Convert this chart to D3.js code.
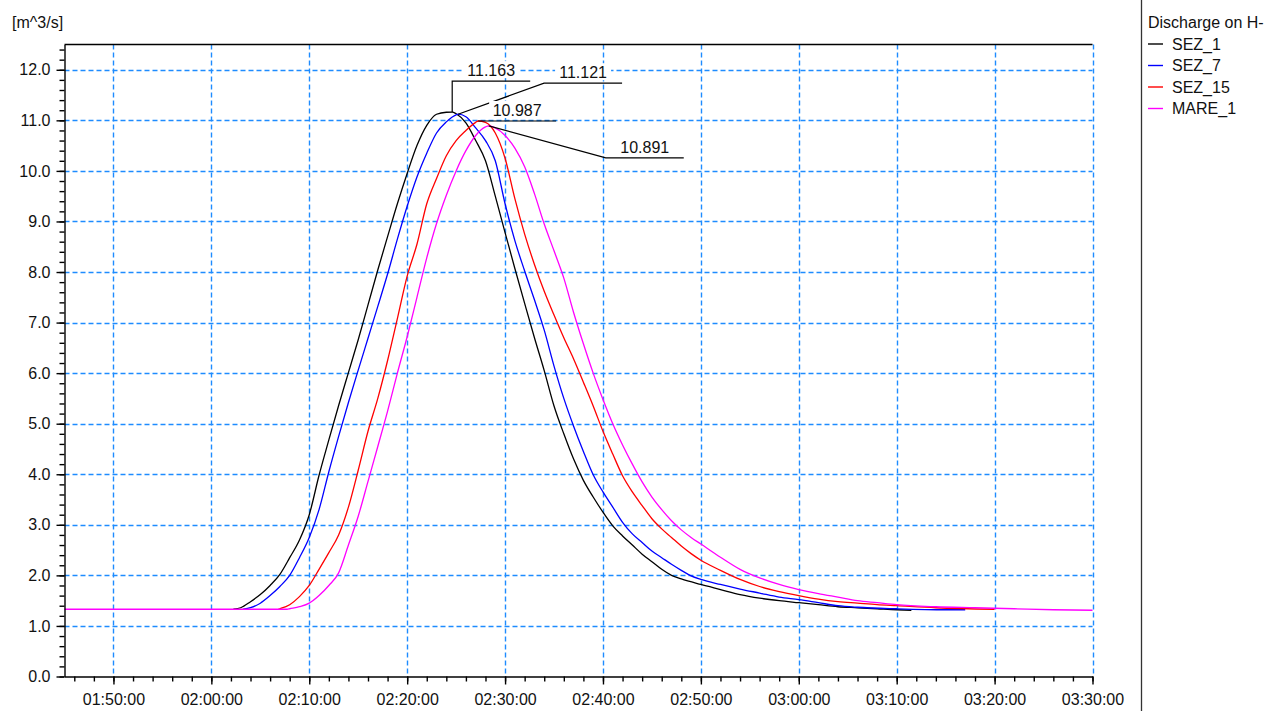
<!DOCTYPE html>
<html>
<head>
<meta charset="utf-8">
<script src="https://cdn.jsdelivr.net/npm/d3@7"></script>
<style>
  html, body { margin: 0; padding: 0; background: #fff; overflow: hidden; }
  svg { display: block; font-family: "Liberation Sans", Arial, sans-serif; }
</style>
</head>
<body>
<svg id="chart" width="1267" height="711"></svg>
<script>
// ---- Discharge hydrographs (m^3/s) at four sections ----
const sez1Times = ["02:02:15","02:03:00","02:04:00","02:05:00","02:06:00","02:07:00","02:08:00","02:09:00","02:10:00","02:11:00","02:12:00","02:13:00","02:14:00","02:15:00","02:16:00","02:17:00","02:18:00","02:19:00","02:20:00","02:21:00","02:22:00","02:23:00","02:24:00","02:24:36","02:25:00","02:26:00","02:27:00","02:28:00","02:29:00","02:30:00","02:31:00","02:32:00","02:33:00","02:34:00","02:35:00","02:36:00","02:37:00","02:38:00","02:39:00","02:40:00","02:41:00","02:42:00","02:43:00","02:44:00","02:45:00","02:46:00","02:47:00","02:48:00","02:50:00","02:52:00","02:54:00","02:56:00","02:58:00","03:00:00","03:02:00","03:04:00","03:06:00","03:08:00","03:10:00","03:11:30"];
const sez1Values = [1.33,1.36,1.48,1.62,1.80,2.02,2.35,2.70,3.20,3.98,4.68,5.36,6.01,6.66,7.35,8.04,8.70,9.35,9.95,10.50,10.90,11.12,11.16,11.163,11.13,10.95,10.60,10.20,9.50,8.78,8.07,7.38,6.70,6.05,5.35,4.80,4.30,3.88,3.55,3.25,2.98,2.78,2.60,2.42,2.27,2.12,2.00,1.93,1.82,1.72,1.62,1.55,1.50,1.46,1.42,1.38,1.36,1.34,1.32,1.31];

const sez7Times = ["02:03:15","02:04:00","02:05:00","02:06:00","02:07:00","02:08:00","02:09:00","02:10:00","02:11:00","02:12:00","02:13:00","02:14:00","02:15:00","02:16:00","02:17:00","02:18:00","02:19:00","02:20:00","02:21:00","02:22:00","02:23:00","02:24:00","02:25:00","02:25:12","02:26:00","02:27:00","02:28:00","02:29:00","02:30:00","02:31:00","02:32:00","02:33:00","02:34:00","02:35:00","02:36:00","02:37:00","02:38:00","02:39:00","02:40:00","02:41:00","02:42:00","02:43:00","02:44:00","02:45:00","02:46:00","02:47:00","02:48:00","02:49:00","02:50:00","02:52:00","02:54:00","02:56:00","02:58:00","03:00:00","03:02:00","03:04:00","03:06:00","03:10:00","03:15:00","03:17:00"];
const sez7Values = [1.33,1.36,1.45,1.60,1.78,2.00,2.35,2.75,3.30,4.05,4.75,5.42,6.06,6.69,7.32,7.96,8.65,9.30,9.88,10.35,10.75,10.97,11.11,11.121,11.07,10.85,10.60,10.20,9.35,8.62,8.02,7.45,6.85,6.14,5.50,4.95,4.45,3.99,3.65,3.35,3.05,2.82,2.65,2.48,2.35,2.22,2.10,1.99,1.92,1.82,1.73,1.65,1.57,1.52,1.46,1.40,1.37,1.34,1.32,1.32];

const sez15Times = ["02:06:50","02:07:00","02:08:00","02:09:00","02:10:00","02:11:00","02:12:00","02:13:00","02:14:00","02:15:00","02:16:00","02:17:00","02:18:00","02:19:00","02:20:00","02:21:00","02:22:00","02:23:00","02:24:00","02:25:00","02:26:00","02:27:00","02:27:15","02:28:00","02:29:00","02:30:00","02:31:00","02:32:00","02:33:00","02:34:00","02:35:00","02:36:00","02:37:00","02:38:00","02:39:00","02:40:00","02:41:00","02:42:00","02:43:00","02:44:00","02:45:00","02:46:00","02:47:00","02:48:00","02:49:00","02:50:00","02:52:00","02:54:00","02:56:00","02:58:00","03:00:00","03:02:00","03:04:00","03:06:00","03:08:00","03:10:00","03:14:00","03:20:00"];
const sez15Values = [1.33,1.34,1.42,1.58,1.80,2.12,2.45,2.80,3.35,4.08,4.85,5.50,6.25,7.08,7.92,8.55,9.35,9.85,10.30,10.60,10.80,10.96,10.987,10.96,10.75,10.25,9.45,8.75,8.15,7.62,7.15,6.70,6.28,5.82,5.35,4.85,4.40,3.97,3.65,3.38,3.12,2.92,2.75,2.58,2.43,2.30,2.10,1.92,1.78,1.68,1.60,1.53,1.48,1.45,1.42,1.40,1.36,1.33];

const mare1Times = ["01:45:00","02:07:45","02:08:00","02:09:00","02:10:00","02:11:00","02:12:00","02:13:00","02:14:00","02:15:00","02:16:00","02:17:00","02:18:00","02:19:00","02:20:00","02:21:00","02:22:00","02:23:00","02:24:00","02:25:00","02:26:00","02:27:00","02:28:00","02:28:20","02:29:00","02:30:00","02:31:00","02:32:00","02:33:00","02:34:00","02:35:00","02:36:00","02:37:00","02:38:00","02:39:00","02:40:00","02:41:00","02:42:00","02:43:00","02:44:00","02:45:00","02:46:00","02:47:00","02:48:00","02:49:00","02:50:00","02:52:00","02:54:00","02:56:00","02:58:00","03:00:00","03:02:00","03:04:00","03:06:00","03:08:00","03:10:00","03:14:00","03:18:00","03:22:00","03:26:00","03:30:00"];
const mare1Values = [1.33,1.33,1.34,1.38,1.45,1.60,1.80,2.05,2.60,3.17,3.86,4.55,5.25,6.00,6.72,7.50,8.28,8.96,9.52,10.00,10.40,10.70,10.87,10.891,10.85,10.70,10.45,10.08,9.55,8.95,8.42,7.88,7.20,6.58,6.00,5.48,5.00,4.58,4.20,3.85,3.55,3.30,3.08,2.90,2.75,2.62,2.36,2.12,1.95,1.82,1.72,1.64,1.57,1.50,1.46,1.42,1.38,1.36,1.34,1.32,1.31];

const seriesNames = ["SEZ_1", "SEZ_7", "SEZ_15", "MARE_1"];
const xTickLabels = ["01:50:00","02:00:00","02:10:00","02:20:00","02:30:00","02:40:00","02:50:00","03:00:00","03:10:00","03:20:00","03:30:00"];
const yTickLabels = ["0.0","1.0","2.0","3.0","4.0","5.0","6.0","7.0","8.0","9.0","10.0","11.0","12.0"];
const timeDomain = ["01:45:00", "03:30:00"];
const valueDomain = [0, 12.5];
const yAxisTitle = "[m^3/s]";
const legendTitle = "Discharge on H-";

// ---- styling ----
const seriesColors = ["#000000", "#0000ff", "#ff0000", "#ff00ff"];
const gridColor = "#1e8cff";
const fontSize = 16;
// leader-line elbow offsets from each peak (px) for the peak value callouts
const calloutElbows = [[0, -31], [86, -31], [0, 0], [117, 32]];
const calloutRun = 78;

const parseTime = d3.timeParse("%H:%M:%S");
const seriesData = [
  [sez1Times, sez1Values], [sez7Times, sez7Values],
  [sez15Times, sez15Values], [mare1Times, mare1Values]
].map(([ts, vs], i) => ({
  name: seriesNames[i],
  color: seriesColors[i],
  points: ts.map((t, j) => ({ t: parseTime(t), v: vs[j] }))
}));

const svg = d3.select("#chart");
const plot = { left: 64.5, right: 1092.5, top: 44.5, bottom: 676.5 };

const x = d3.scaleTime().domain(timeDomain.map(parseTime)).range([plot.left, plot.right]);
const y = d3.scaleLinear().domain(valueDomain).range([plot.bottom, plot.top]);

// ---- grid ----
const majorX = xTickLabels.map(parseTime);
const majorY = d3.range(1, 13);
const grid = svg.append("g").attr("stroke", gridColor).attr("stroke-width", 1.4)
  .attr("stroke-dasharray", "5,3").attr("fill", "none");
grid.selectAll("line.gx").data(majorX).join("line")
  .attr("x1", d => Math.round(x(d)) + 0.5).attr("x2", d => Math.round(x(d)) + 0.5)
  .attr("y1", plot.top).attr("y2", plot.bottom);
grid.selectAll("line.gy").data(majorY).join("line")
  .attr("x1", plot.left).attr("x2", plot.right)
  .attr("y1", d => Math.round(y(d)) + 0.5).attr("y2", d => Math.round(y(d)) + 0.5);

// ---- curves ----
const line = d3.line().curve(d3.curveMonotoneX).x(d => x(d.t)).y(d => y(d.v));
svg.append("g").selectAll("path").data(seriesData).join("path")
  .attr("d", d => line(d.points))
  .attr("fill", "none")
  .attr("stroke", d => d.color)
  .attr("stroke-width", 1.3)
  .attr("stroke-linejoin", "round");

// ---- frame top ----
svg.append("line").attr("x1", plot.left).attr("x2", plot.right)
  .attr("y1", plot.top).attr("y2", plot.top)
  .attr("stroke", "#000").attr("stroke-width", 1.4);

// ---- y axis ----
const yMinor = d3.axisLeft(y).tickValues(d3.range(0, 12.5, 0.2)).tickSize(5).tickFormat("").tickSizeOuter(0);
const yMajor = d3.axisLeft(y).tickValues(d3.range(0, 13)).tickSize(8).tickPadding(6).tickSizeOuter(0)
  .tickFormat((d, i) => yTickLabels[i]);
const gy1 = svg.append("g").attr("transform", `translate(${plot.left},0)`).call(yMinor);
gy1.select(".domain").remove();
svg.append("g").attr("transform", `translate(${plot.left},0)`).call(yMajor);

// ---- x axis ----
const minorXTicks = d3.timeMinute.every(2).range(parseTime("01:46:00"), parseTime("03:30:01"));
const xMinor = d3.axisBottom(x).tickValues(minorXTicks).tickSize(5).tickFormat("").tickSizeOuter(0);
const xMajor = d3.axisBottom(x).tickValues(majorX).tickSize(8).tickPadding(9).tickSizeOuter(0)
  .tickFormat((d, i) => xTickLabels[i]);
const gx1 = svg.append("g").attr("transform", `translate(0,${plot.bottom})`).call(xMinor);
gx1.select(".domain").remove();
svg.append("g").attr("transform", `translate(0,${plot.bottom})`).call(xMajor);

svg.selectAll(".tick line, .domain").attr("stroke", "#000").attr("stroke-width", 1.4);
svg.selectAll(".tick text").attr("font-size", fontSize).attr("fill", "#111")
  .attr("font-family", "'Liberation Sans', Arial, sans-serif");

// ---- axis title ----
svg.append("text").attr("x", 12).attr("y", 28).attr("font-size", fontSize).attr("fill", "#111")
  .text(yAxisTitle);

// ---- peak callouts ----
const callouts = seriesData.map((s, i) => {
  const peak = s.points.reduce((a, b) => (b.v > a.v ? b : a));
  const px = x(peak.t), py = y(peak.v);
  const ex = px + calloutElbows[i][0], ey = py + calloutElbows[i][1];
  return { px, py, ex, ey, label: d3.format(".3f")(peak.v) };
});
const cg = svg.append("g");
cg.selectAll("path").data(callouts).join("path")
  .attr("d", d => `M${d.px},${d.py}L${d.ex},${d.ey}L${d.ex + calloutRun},${d.ey}`)
  .attr("fill", "none").attr("stroke", "#000").attr("stroke-width", 1.2);
cg.selectAll("rect").data(callouts).join("rect")
  .attr("x", d => d.ex + calloutRun / 2 - 28).attr("y", d => d.ey - 20)
  .attr("width", 56).attr("height", 17).attr("fill", "#fff");
cg.selectAll("text").data(callouts).join("text")
  .attr("x", d => d.ex + calloutRun / 2).attr("y", d => d.ey - 5)
  .attr("text-anchor", "middle").attr("font-size", fontSize).attr("fill", "#111")
  .text(d => d.label);

// ---- legend ----
svg.append("line").attr("x1", 1141.5).attr("x2", 1141.5).attr("y1", 0).attr("y2", 711)
  .attr("stroke", "#333").attr("stroke-width", 1.3);
const lg = svg.append("g");
lg.append("text").attr("x", 1148).attr("y", 28).attr("font-size", fontSize).attr("fill", "#111")
  .text(legendTitle);
const items = lg.selectAll("g.item").data(seriesData).join("g")
  .attr("transform", (d, i) => `translate(1148,${44 + i * 21.5})`);
items.append("line").attr("x1", 0).attr("x2", 15).attr("y1", 0).attr("y2", 0)
  .attr("stroke", d => d.color).attr("stroke-width", 1.4);
items.append("text").attr("x", 24).attr("y", 0).attr("dy", "0.36em")
  .attr("font-size", fontSize).attr("fill", "#111").text(d => d.name);
</script>
</body>
</html>
